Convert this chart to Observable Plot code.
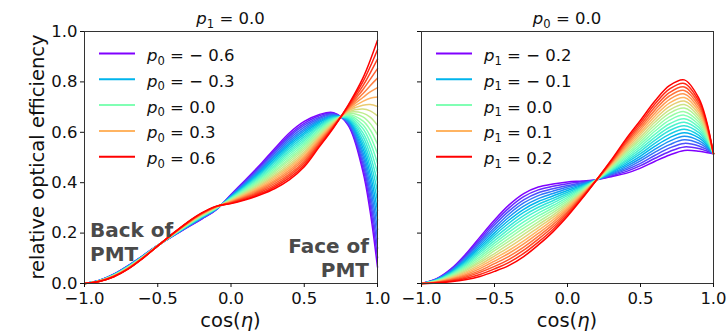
<!DOCTYPE html>
<html>
<head>
<meta charset="utf-8">
<script src="https://cdn.jsdelivr.net/npm/d3@7"></script>
<script src="https://cdn.jsdelivr.net/npm/@observablehq/plot@0.6"></script>
<style>
  body { margin: 0; background: #fff; }
  #chart { position: relative; width: 728px; height: 333px; }
  #chart svg { position: absolute; top: 0; overflow: visible; }
  #chart text { white-space: pre; }
</style>
</head>
<body>
<div id="chart"></div>
<script>
// cos(eta) sample positions shared by both panels
const cosEta = [-1, -0.9, -0.8, -0.7, -0.6, -0.5, -0.4, -0.3, -0.2, -0.1, 0, 0.1, 0.2, 0.3, 0.4, 0.5, 0.6, 0.7, 0.8, 0.9, 0.95, 1];

// hole-ice parameters drawn in each panel
const p0Values = [-0.6, -0.55, -0.5, -0.45, -0.4, -0.35, -0.3, -0.25, -0.2, -0.15, -0.1, -0.05, 0, 0.05, 0.1, 0.15, 0.2, 0.25, 0.3, 0.35, 0.4, 0.45, 0.5, 0.55, 0.6];
const p1Values = [-0.2, -0.18, -0.16, -0.14, -0.12, -0.1, -0.08, -0.06, -0.04, -0.02, 0, 0.02, 0.04, 0.06, 0.08, 0.1, 0.12, 0.14, 0.16, 0.18, 0.2];

// relative optical efficiency with p1 = 0: one row per cosEta, one column per p0
const effByP0 = [
  [0,0,0,0,0,0,0,0,0,0,0,0,0,0,0,0,0,0,0,0,0,0,0,0,0],
  [.012,.012,.012,.012,.011,.011,.011,.011,.011,.011,.010,.010,.010,.010,.010,.010,.009,.009,.009,.009,.009,.009,.008,.008,.008],
  [.037,.037,.036,.036,.035,.035,.035,.034,.034,.033,.033,.032,.032,.032,.031,.031,.030,.030,.030,.029,.029,.028,.028,.027,.027],
  [.072,.071,.071,.070,.070,.069,.069,.068,.067,.067,.066,.066,.065,.064,.064,.063,.063,.062,.062,.061,.060,.060,.059,.059,.058],
  [.111,.111,.110,.110,.109,.109,.109,.108,.108,.107,.107,.106,.106,.106,.105,.105,.104,.104,.104,.103,.103,.102,.102,.101,.101],
  [.151,.151,.151,.151,.151,.151,.151,.150,.150,.150,.150,.150,.150,.150,.150,.150,.150,.150,.149,.149,.149,.149,.149,.149,.149],
  [.187,.187,.188,.188,.189,.189,.189,.190,.190,.191,.191,.192,.192,.192,.193,.193,.194,.194,.194,.195,.195,.196,.196,.197,.197],
  [.222,.223,.224,.225,.225,.226,.227,.228,.229,.230,.230,.231,.232,.233,.234,.235,.235,.236,.237,.238,.239,.240,.240,.241,.242],
  [.256,.257,.258,.259,.260,.261,.262,.263,.264,.265,.266,.267,.268,.269,.270,.271,.272,.273,.274,.275,.276,.277,.278,.279,.280],
  [.293,.294,.294,.295,.295,.296,.297,.297,.298,.298,.299,.299,.300,.301,.301,.302,.302,.303,.304,.304,.305,.305,.306,.306,.307],
  [.353,.3515,.350,.3485,.347,.3455,.344,.3425,.341,.3395,.338,.3365,.335,.3335,.332,.3305,.329,.3275,.326,.3245,.323,.3215,.320,.3185,.317],
  [.412,.409,.405,.402,.399,.395,.392,.389,.385,.382,.379,.375,.372,.369,.365,.362,.359,.355,.352,.349,.345,.342,.339,.335,.332],
  [.472,.467,.462,.457,.452,.447,.442,.437,.432,.427,.422,.417,.412,.407,.402,.397,.392,.387,.382,.377,.372,.367,.362,.357,.352],
  [.537,.530,.524,.517,.510,.504,.497,.490,.484,.477,.470,.464,.457,.450,.444,.437,.430,.424,.417,.410,.404,.397,.390,.384,.377],
  [.598,.590,.583,.575,.567,.559,.552,.544,.536,.528,.521,.513,.505,.497,.490,.482,.474,.466,.459,.451,.443,.435,.428,.420,.412],
  [.643,.6355,.628,.6205,.613,.6055,.598,.5905,.583,.5755,.568,.5605,.553,.5455,.538,.5305,.523,.5155,.508,.5005,.493,.4855,.478,.4705,.463],
  [.670,.665,.659,.654,.648,.643,.638,.632,.627,.621,.616,.610,.605,.600,.594,.589,.583,.578,.573,.567,.562,.556,.551,.545,.540],
  [.678,.6755,.673,.6705,.668,.6655,.663,.6605,.658,.6555,.653,.6505,.648,.6455,.643,.6405,.638,.6355,.633,.6305,.628,.6255,.623,.6205,.618],
  [.628,.631,.635,.638,.641,.645,.648,.651,.655,.658,.661,.665,.668,.671,.675,.678,.681,.685,.688,.691,.695,.698,.701,.705,.708],
  [.445,.460,.476,.491,.507,.522,.538,.553,.568,.584,.599,.615,.630,.645,.661,.676,.692,.707,.723,.738,.753,.769,.784,.800,.815],
  [.285,.310,.335,.360,.385,.410,.435,.460,.485,.510,.535,.560,.585,.610,.635,.660,.685,.710,.735,.760,.785,.810,.835,.860,.885],
  [.065,.1025,.140,.1775,.215,.2525,.290,.3275,.365,.4025,.440,.4775,.515,.5525,.590,.6275,.665,.7025,.740,.7775,.815,.8525,.890,.9275,.965]
];

// relative optical efficiency with p0 = 0: one row per cosEta, one column per p1
const effByP1 = [
  [0,0,0,0,0,0,0,0,0,0,0,0,0,0,0,0,0,0,0,0,0],
  [.018,.017,.016,.016,.015,.014,.013,.012,.012,.011,.010,.009,.008,.008,.007,.006,.005,.004,.004,.003,.002],
  [.057,.0545,.052,.0495,.047,.0445,.042,.0395,.037,.0345,.032,.0295,.027,.0245,.022,.0195,.017,.0145,.012,.0095,.007],
  [.115,.110,.105,.100,.095,.090,.085,.080,.075,.070,.065,.060,.055,.050,.045,.040,.035,.030,.025,.020,.015],
  [.184,.176,.168,.161,.153,.145,.137,.129,.122,.114,.106,.098,.090,.083,.075,.067,.059,.051,.044,.036,.028],
  [.252,.242,.232,.221,.211,.201,.191,.181,.170,.160,.150,.140,.130,.119,.109,.099,.089,.079,.068,.058,.048],
  [.312,.300,.288,.276,.264,.252,.240,.228,.216,.204,.192,.180,.168,.156,.144,.132,.120,.108,.096,.084,.072],
  [.357,.3445,.332,.3195,.307,.2945,.282,.2695,.257,.2445,.232,.2195,.207,.1945,.182,.1695,.157,.1445,.132,.1195,.107],
  [.383,.3715,.360,.3485,.337,.3255,.314,.3025,.291,.2795,.268,.2565,.245,.2335,.222,.2105,.199,.1875,.176,.1645,.153],
  [.395,.3855,.376,.3665,.357,.3475,.338,.3285,.319,.3095,.300,.2905,.281,.2715,.262,.2525,.243,.2335,.224,.2145,.205],
  [.403,.396,.389,.383,.376,.369,.362,.355,.349,.342,.335,.328,.321,.315,.308,.301,.294,.287,.281,.274,.267],
  [.407,.4035,.400,.3965,.393,.3895,.386,.3825,.379,.3755,.372,.3685,.365,.3615,.358,.3545,.351,.3475,.344,.3405,.337],
  [.412,.412,.412,.412,.412,.412,.412,.412,.412,.412,.412,.412,.412,.412,.412,.412,.412,.412,.412,.412,.412],
  [.424,.427,.431,.434,.437,.441,.444,.447,.450,.454,.457,.460,.464,.467,.470,.474,.477,.480,.483,.487,.490],
  [.437,.444,.451,.457,.464,.471,.478,.485,.491,.498,.505,.512,.519,.525,.532,.539,.546,.553,.559,.566,.573],
  [.458,.4675,.477,.4865,.496,.5055,.515,.5245,.534,.5435,.553,.5625,.572,.5815,.591,.6005,.610,.6195,.629,.6385,.648],
  [.485,.497,.509,.521,.533,.545,.557,.569,.581,.593,.605,.617,.629,.641,.653,.665,.677,.689,.701,.713,.725],
  [.510,.524,.538,.551,.565,.579,.593,.607,.620,.634,.648,.662,.676,.689,.703,.717,.731,.745,.758,.772,.786],
  [.528,.542,.556,.570,.584,.598,.612,.626,.640,.654,.668,.682,.696,.710,.724,.738,.752,.766,.780,.794,.808],
  [.525,.5355,.546,.5565,.567,.5775,.588,.5985,.609,.6195,.630,.6405,.651,.6615,.672,.6825,.693,.7035,.714,.7245,.735],
  [.520,.5265,.533,.5395,.546,.5525,.559,.5655,.572,.5785,.585,.5915,.598,.6045,.611,.6175,.624,.6305,.637,.6435,.650],
  [.515,.515,.515,.515,.515,.515,.515,.515,.515,.515,.515,.515,.515,.515,.515,.515,.515,.515,.515,.515,.515]
];

// legend entries and axis ticks
const p0Legend = [-0.6, -0.3, 0, 0.3, 0.6];
const p1Legend = [-0.2, -0.1, 0, 0.1, 0.2];
const xTicks = [-1, -0.5, 0, 0.5, 1];
const yTicks = [0, 0.2, 0.4, 0.6, 0.8, 1];

const FONT = '"DejaVu Sans", sans-serif';
const TICK_FS = 16.5;
const LABEL_FS = 19.5;

// matplotlib's "rainbow" colormap
function rainbow(t) {
  const r = Math.min(1, Math.abs(2 * t - 0.5));
  const g = Math.sin(Math.PI * t);
  const b = Math.cos(Math.PI * t / 2);
  return d3.rgb(r * 255, g * 255, b * 255).formatHex();
}

const fmt1 = d3.format(".1f");

// p_k = value, written as italic symbol with a subscript index
function mathParam(text, sub, value, fs) {
  text.append("tspan").attr("font-style", "italic").text("p");
  text.append("tspan").attr("font-size", fs * 0.7).attr("dy", fs * 0.22).text(sub);
  const v = value < 0 ? " = \u2212 " + fmt1(-value) : " = " + fmt1(Math.abs(value));
  text.append("tspan").attr("dy", -fs * 0.22).text(v);
}

function drawPanel(o) {
  const data = [];
  o.params.forEach((p, j) => cosEta.forEach((x, i) => data.push({p, x, eff: o.rows[i][j]})));
  const [lo, hi] = d3.extent(o.params);
  const colorOf = p => rainbow((p - lo) / (hi - lo));

  const svg = Plot.plot({
    width: o.width,
    height: 333,
    marginTop: 31,
    marginBottom: 50,
    marginLeft: o.marginLeft,
    marginRight: o.marginRight,
    style: {fontFamily: FONT, fontSize: TICK_FS + "px", color: "#111", background: "transparent", overflow: "visible"},
    x: {domain: [-1, 1]},
    y: {domain: [0, 1]},
    color: {type: "identity"},
    marks: [
      Plot.line(data, {x: "x", y: "eff", z: "p", stroke: d => colorOf(d.p), strokeWidth: 1.5, curve: "catmull-rom"}),
      Plot.frame({stroke: "#333", strokeWidth: 1}),
      Plot.axisX({ticks: xTicks, tickFormat: fmt1, tickSize: 4, tickPadding: 5, label: null, fontSize: TICK_FS}),
      Plot.axisY({ticks: yTicks, tickFormat: o.yLabels ? fmt1 : () => "", tickSize: 4, tickPadding: 3, label: null, fontSize: TICK_FS})
    ]
  });
  svg.style.left = o.left + "px";
  document.getElementById("chart").appendChild(svg);

  const x0 = o.marginLeft, x1 = o.width - o.marginRight, cx = (x0 + x1) / 2;
  const g = d3.select(svg).append("g").attr("font-family", FONT).attr("fill", "#111");

  // panel title
  const title = g.append("text").attr("x", cx).attr("y", 24).attr("text-anchor", "middle").attr("font-size", TICK_FS);
  mathParam(title, o.fixedSub, 0, TICK_FS);

  // x axis label
  const xl = g.append("text").attr("x", cx).attr("y", 327).attr("text-anchor", "middle").attr("font-size", LABEL_FS);
  xl.append("tspan").text("cos(");
  xl.append("tspan").attr("font-style", "italic").text("\u03b7");
  xl.append("tspan").text(")");

  if (o.yLabels) {
    g.append("text").attr("transform", "translate(44,157) rotate(-90)").attr("text-anchor", "middle")
      .attr("font-size", LABEL_FS).text("relative optical efficiency");
  }

  // legend
  o.legend.forEach((p, i) => {
    const y = 53.5 + 25.8 * i;
    g.append("line").attr("x1", x0 + 15).attr("x2", x0 + 51).attr("y1", y).attr("y2", y)
      .attr("stroke", colorOf(p)).attr("stroke-width", 2);
    const t = g.append("text").attr("x", x0 + 63).attr("y", y + 7.5)
      .attr("text-anchor", "start").attr("font-size", TICK_FS);
    mathParam(t, o.legendSub, p, TICK_FS);
  });

  // annotations
  (o.notes || []).forEach(n => {
    const t = g.append("text").attr("x", n.x).attr("text-anchor", n.anchor)
      .attr("font-size", 20).attr("font-weight", "bold").attr("fill", "#4a4a4a");
    n.lines.forEach((s, k) => t.append("tspan").attr("x", n.x).attr("y", n.y + 23.5 * k).text(s));
  });
}

drawPanel({
  rows: effByP0, params: p0Values, legend: p0Legend, legendSub: "0", fixedSub: "1",
  left: 0, width: 380, marginLeft: 84, marginRight: 3, yLabels: true,
  notes: [
    {x: 90, y: 237, anchor: "start", lines: ["Back of", "PMT"]},
    {x: 369, y: 253, anchor: "end", lines: ["Face of", "PMT"]}
  ]
});

drawPanel({
  rows: effByP1, params: p1Values, legend: p1Legend, legendSub: "1", fixedSub: "0",
  left: 380, width: 348, marginLeft: 41, marginRight: 15, yLabels: false
});
</script>
</body>
</html>
